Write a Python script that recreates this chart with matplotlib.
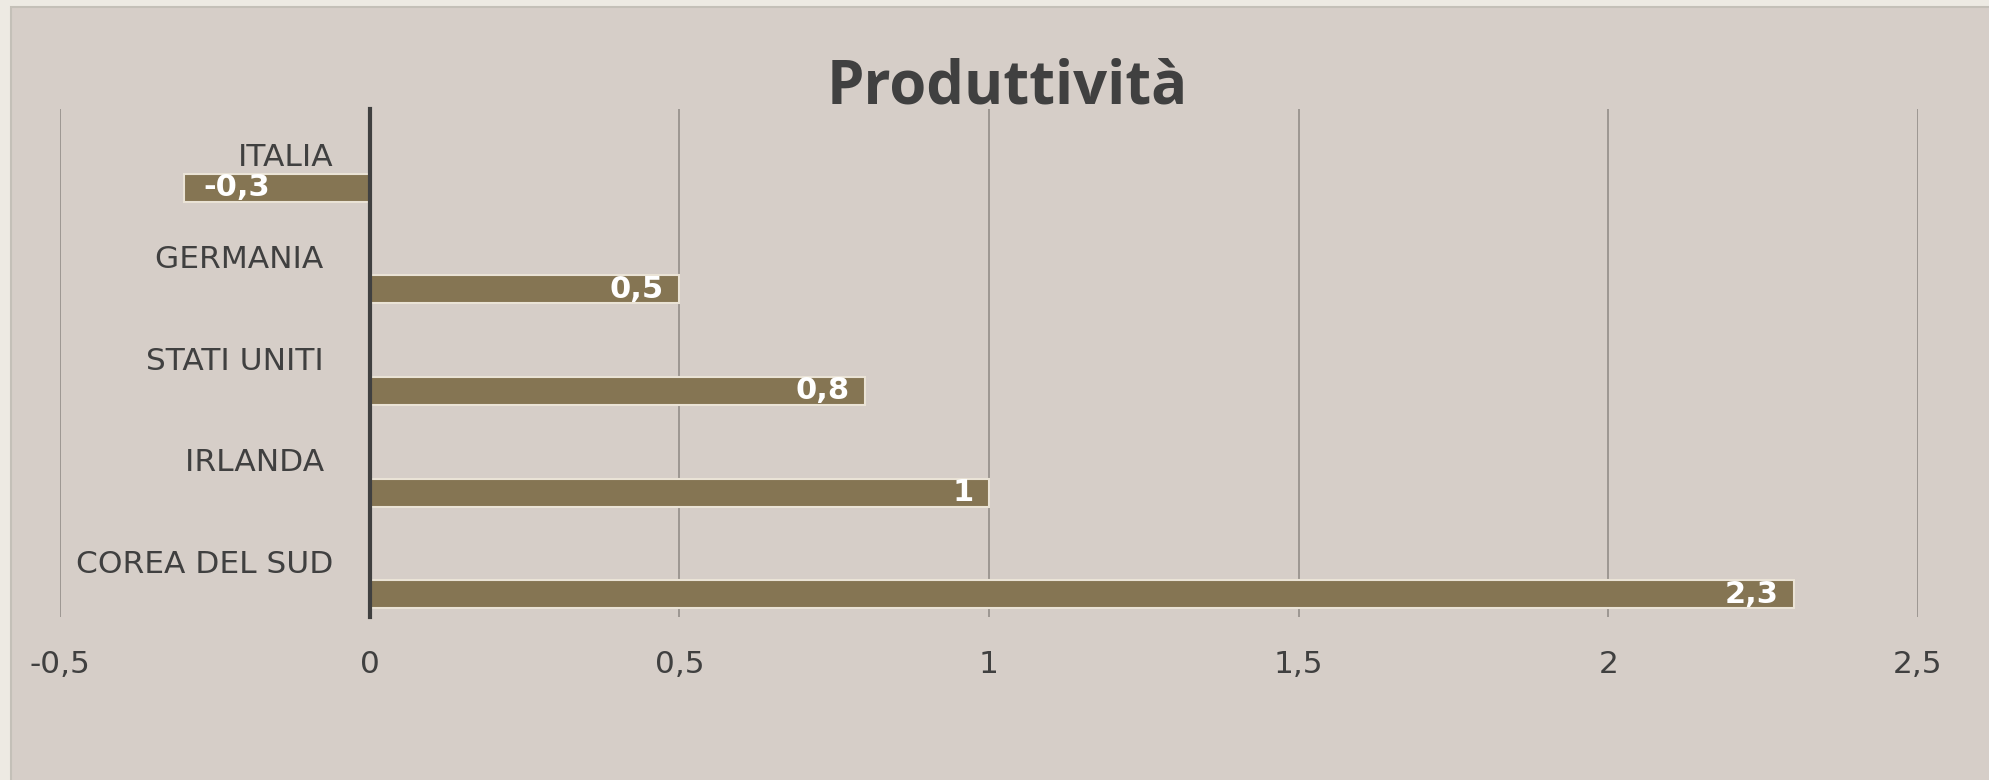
import matplotlib
matplotlib.use("Agg")
import matplotlib.pyplot as plt
from matplotlib.patches import Rectangle
from matplotlib.transforms import ScaledTranslation

countries = ["ITALIA", "GERMANIA ", "STATI UNITI ", "IRLANDA ", "COREA DEL SUD"]
values = [-0.3, 0.5, 0.8, 1, 2.3]
xticks = [-0.5, 0, 0.5, 1, 1.5, 2, 2.5]

text_color = "#404040"
bar_color = "#857553"
panel_color = "#D6CEC8"
outer_color = "#EDEAE3"

fig = plt.figure(figsize=(19.9, 7.8), dpi=100, facecolor=outer_color)

# inner panel like the Excel chart area
panel = Rectangle((11 / 1990, -0.01), 1.0, 1 - 7 / 780 + 0.01, transform=fig.transFigure,
                  facecolor=panel_color, edgecolor="#C4C0B8", linewidth=1.5, zorder=-10)
fig.patches.append(panel)

ax = fig.add_axes([60 / 1990, (780 - 617) / 780, 1858 / 1990, 508 / 780], zorder=1)
ax.set_facecolor("none")

pos = [i + 0.275 for i in range(len(countries))]
ax.barh(pos, values, height=0.275, color=bar_color, edgecolor="#EAE3D6", linewidth=1.5, zorder=3)

for s in ["top", "right", "bottom"]:
    ax.spines[s].set_visible(False)
# y axis drawn at x = 0, labels follow it
ax.spines["left"].set_position(("data", 0))
ax.spines["left"].set_color(text_color)
ax.spines["left"].set_linewidth(3)
ax.spines["left"].set_zorder(4)

ax.set_xlim(-0.5, 2.5)
ax.set_ylim(len(countries) - 0.5, -0.5)
ax.set_xticks(xticks)
ax.set_xticklabels([f"{t:g}".replace(".", ",") for t in xticks], fontsize=22.5, color=text_color)
ax.set_yticks(range(len(countries)))
ax.set_yticklabels(countries, fontsize=22.5, color=text_color)
ax.tick_params(axis="x", length=0, pad=24)
ax.tick_params(axis="y", length=0, pad=26)

# category labels sit a little above the band centre
shift = ScaledTranslation(0, 5 / 100, fig.dpi_scale_trans)
for lab in ax.get_yticklabels():
    lab.set_transform(lab.get_transform() + shift)

for t in xticks:
    if t != 0:
        ax.axvline(t, color="#8E8884", linewidth=1.1, zorder=1)

for y, v in zip(pos, values):
    lab = f"{v:g}".replace(".", ",")
    if v < 0:
        ax.annotate(lab, xy=(v, y), xytext=(14, 0), textcoords="offset points",
                    ha="left", va="center", color="white", fontsize=22, fontweight="bold", zorder=5)
    else:
        ax.annotate(lab, xy=(v, y), xytext=(-11, 0), textcoords="offset points",
                    ha="right", va="center", color="white", fontsize=22, fontweight="bold", zorder=5)

fig.text(1007 / 1990, 1 - 103 / 780, "Produttività", ha="center", va="baseline",
         fontsize=43, fontweight="bold", color=text_color, family="Open Sans")

fig.savefig("out.png", dpi=100, facecolor=outer_color)
